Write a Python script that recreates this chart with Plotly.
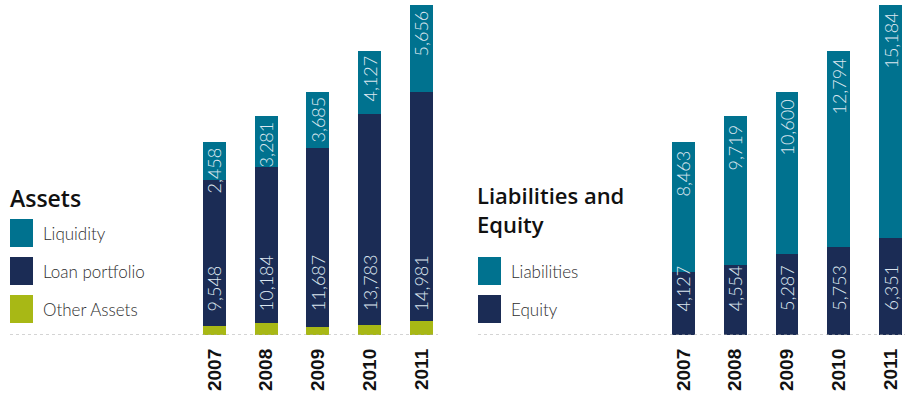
import plotly.graph_objects as go

# ---- data -------------------------------------------------------------
years = ["2007", "2008", "2009", "2010", "2011"]

# Assets
liquidity = [2458, 3281, 3685, 4127, 5656]
loan_portfolio = [9548, 10184, 11687, 13783, 14981]
other_assets = [584, 808, 515, 637, 898]

# Liabilities and equity
liabilities = [8463, 9719, 10600, 12794, 15184]
equity = [4127, 4554, 5287, 5753, 6351]

# ---- styling ----------------------------------------------------------
W, H = 910, 395
MT, MB = 0, 60
PLOT_H = H - MT - MB

TEAL = "#00728f"
NAVY = "#1b2c55"
OLIVE = "#a8b815"
LABEL_COLOR = "#dde7f0"
TEXT_GRAY = "#2e2e2e"

VALUE_FONT = dict(family="Lato", size=18, color=LABEL_COLOR, weight=300)
TICK_FONT = dict(family="Liberation Sans", size=19, color="#111111", weight="bold")
TITLE_FONT = dict(family="Open Sans", size=23, color="#111111", weight=600)
TITLE2_FONT = dict(family="Open Sans", size=22, color="#111111", weight=600)
LEGEND_FONT = dict(family="Lato", size=17, color=TEXT_GRAY, weight=300)


def fmt(v):
    return f"{v:,}"


def px_x(p):
    return p / W


def px_y(p):
    return 1 - (p - MT) / PLOT_H


fig = go.Figure()

# left panel: assets
fig.add_bar(x=years, y=other_assets, marker_color=OLIVE, xaxis="x", yaxis="y",
            name="Other Assets")
fig.add_bar(x=years, y=loan_portfolio, marker_color=NAVY, xaxis="x", yaxis="y",
            name="Loan portfolio")
fig.add_bar(x=years, y=liquidity, marker_color=TEAL, xaxis="x", yaxis="y",
            name="Liquidity")

# right panel: liabilities and equity
fig.add_bar(x=years, y=equity, marker_color=NAVY, xaxis="x2", yaxis="y2",
            name="Equity")
fig.add_bar(x=years, y=liabilities, marker_color=TEAL, xaxis="x2", yaxis="y2",
            name="Liabilities")

fig.update_traces(marker_line_width=0, showlegend=False, hoverinfo="x+y+name")

annotations = []

# value labels: lower segments sit a fixed distance above the baseline,
# upper segments hang from the top of the stack
# (category axes take the serial index of each year for annotations)
for i, yr in enumerate(years):
    annotations.append(dict(x=i, y=0, xref="x", yref="y", text=fmt(loan_portfolio[i]),
                            textangle=-90, yanchor="bottom", xanchor="center",
                            yshift=22, showarrow=False, font=VALUE_FONT))
    top_a = other_assets[i] + loan_portfolio[i] + liquidity[i]
    annotations.append(dict(x=i, y=top_a, xref="x", yref="y", text=fmt(liquidity[i]),
                            textangle=-90, yanchor="top", xanchor="center",
                            yshift=-3, showarrow=False, font=VALUE_FONT))
    annotations.append(dict(x=i, y=0, xref="x2", yref="y2", text=fmt(equity[i]),
                            textangle=-90, yanchor="bottom", xanchor="center",
                            yshift=22, showarrow=False, font=VALUE_FONT))
    top_l = equity[i] + liabilities[i]
    annotations.append(dict(x=i, y=top_l, xref="x2", yref="y2", text=fmt(liabilities[i]),
                            textangle=-90, yanchor="top", xanchor="center",
                            yshift=-6, showarrow=False, font=VALUE_FONT))

# panel titles
annotations.append(dict(x=px_x(8), y=px_y(198), xref="paper", yref="paper",
                        text="Assets", xanchor="left", yanchor="middle",
                        showarrow=False, font=TITLE_FONT, align="left"))
annotations.append(dict(x=px_x(475), y=px_y(209), xref="paper", yref="paper",
                        text="Liabilities and<br>Equity",
                        xanchor="left", yanchor="middle",
                        showarrow=False, font=TITLE2_FONT, align="left"))

shapes = []

# custom legends: swatch + label
legend_left = [("Liquidity", TEAL, 219), ("Loan portfolio", NAVY, 257),
               ("Other Assets", OLIVE, 295)]
legend_right = [("Liabilities", TEAL, 257), ("Equity", NAVY, 295)]
for items, x0 in ((legend_left, 10), (legend_right, 478)):
    for label, color, top in items:
        shapes.append(dict(type="rect", xref="paper", yref="paper",
                           x0=px_x(x0), x1=px_x(x0 + 23),
                           y0=px_y(top + 28), y1=px_y(top),
                           fillcolor=color, line_width=0))
        annotations.append(dict(x=px_x(x0 + 31), y=px_y(top + 14), xref="paper",
                                yref="paper", text=label, xanchor="left",
                                yanchor="middle", showarrow=False, font=LEGEND_FONT))

# dotted baselines
for xr, yr in (("x domain", "y"), ("x2 domain", "y2")):
    shapes.append(dict(type="line", xref=xr, yref=yr, x0=0, x1=1, y0=0, y1=0,
                       line=dict(color="#a8a8a8", width=1, dash="dot")))

YMAX = 21535 * PLOT_H / 330

axis_common = dict(type="category", showgrid=False, zeroline=False, showline=False,
                   tickangle=-90, tickfont=TICK_FONT, ticks="", ticklabelstandoff=9,
                   fixedrange=True)
yaxis_common = dict(range=[0, YMAX], visible=False, fixedrange=True)

fig.update_layout(
    width=W, height=H,
    margin=dict(l=0, r=0, t=MT, b=MB),
    paper_bgcolor="white", plot_bgcolor="white",
    barmode="stack", bargap=0.556,
    xaxis=dict(domain=[px_x(10), px_x(438)], range=[-3.95, 4.32], **axis_common),
    xaxis2=dict(domain=[px_x(478), px_x(905)], range=[-3.97, 4.28], **axis_common),
    yaxis=dict(anchor="x", **yaxis_common),
    yaxis2=dict(anchor="x2", **yaxis_common),
    annotations=annotations,
    shapes=shapes,
    showlegend=False,
)

fig.write_html("out.html")
